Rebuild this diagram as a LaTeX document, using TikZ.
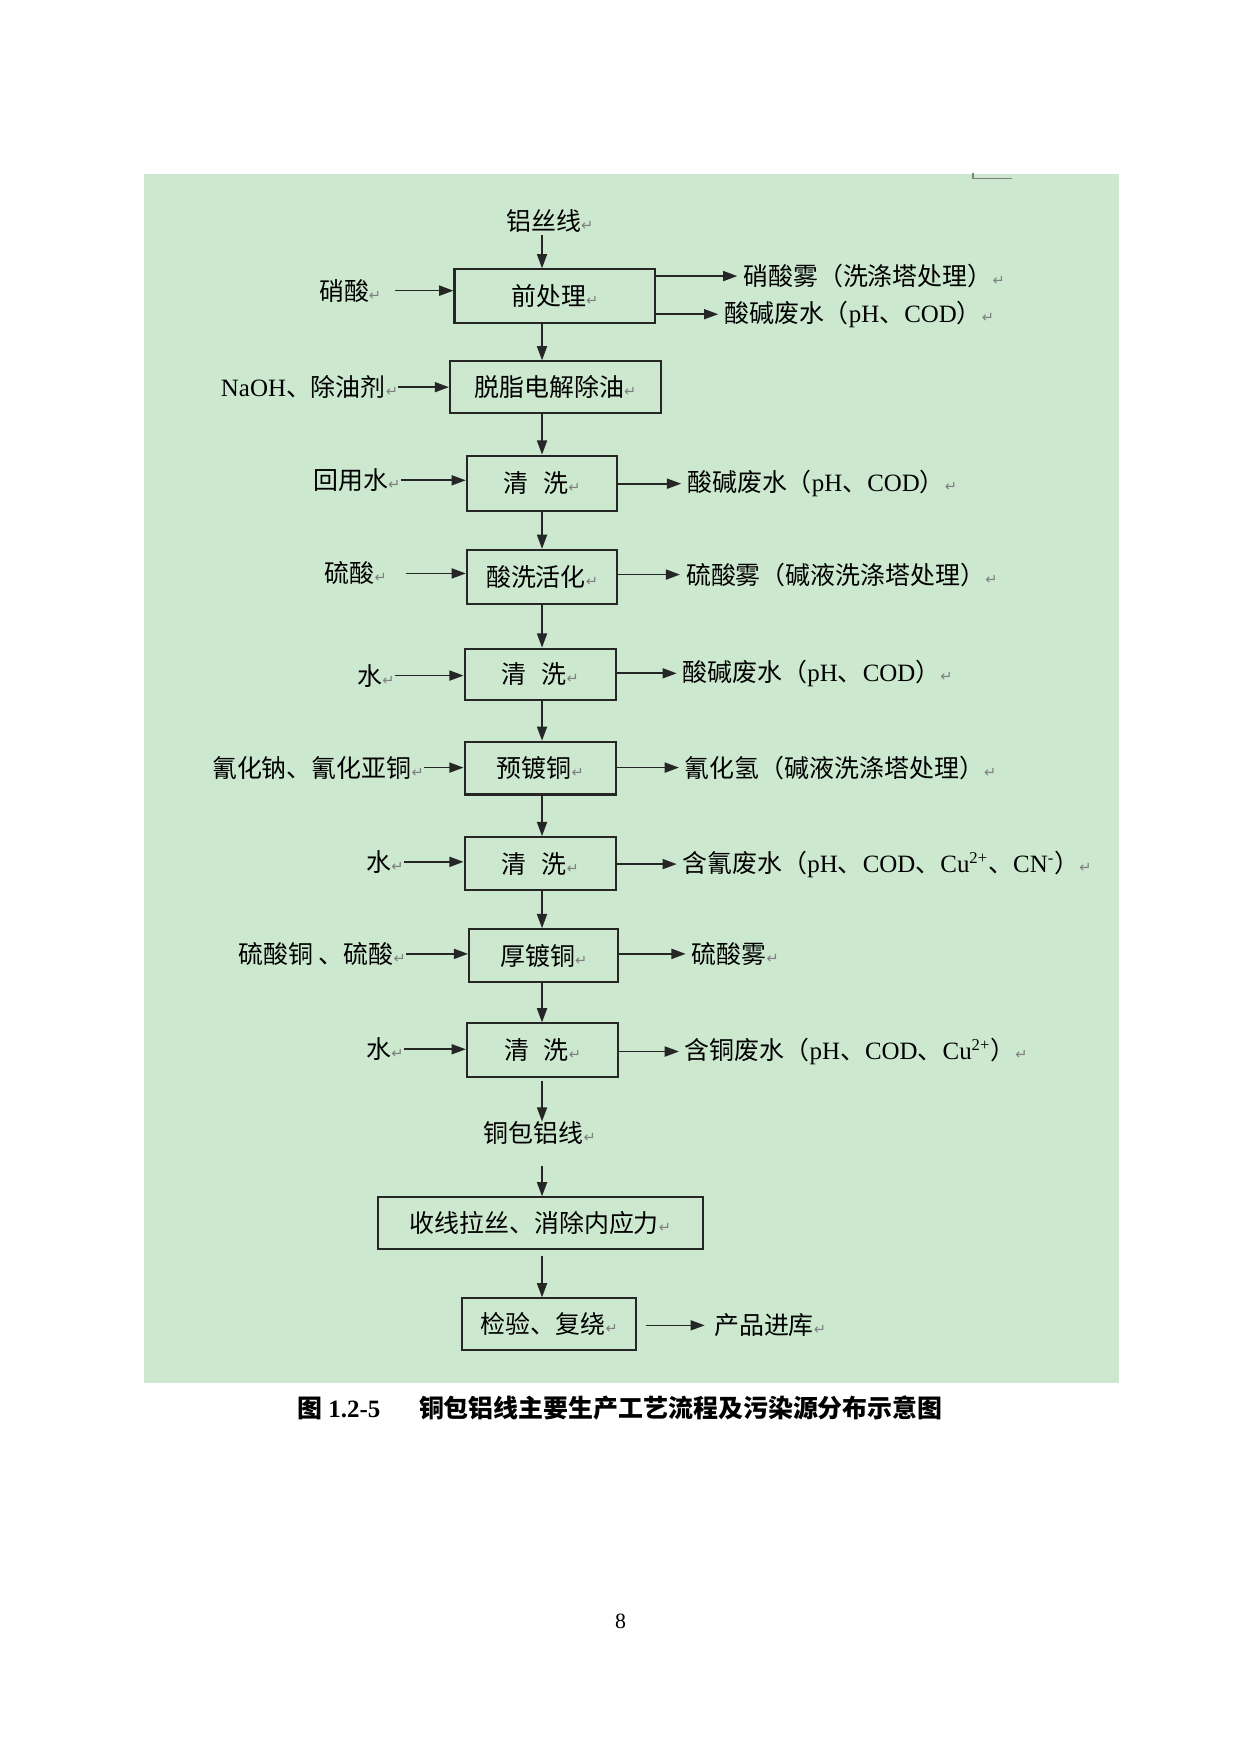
\documentclass[tikz,border=0pt]{standalone}
\usepackage{fontspec}
\setmainfont{Noto Sans CJK SC}
\newfontfamily\lat{Liberation Serif}
\newfontfamily\sym{DejaVu Sans}
\usetikzlibrary{positioning,arrows.meta,calc}
\definecolor{papiergruen}{RGB}{204,232,207}
\definecolor{markgrau}{RGB}{128,128,128}
\newcommand{\px}{0.5402pt}
\newcommand{\tnr}[1]{{\lat #1}}
\newcommand{\pmark}{{\sym\fontsize{7pt}{8pt}\selectfont\color{markgrau}↵}}

\begin{document}
\begin{tikzpicture}[x=0.018987cm,y=-0.018987cm,
    font=\fontsize{12pt}{14pt}\selectfont,
    box/.style={draw=black!85,line width=1pt,inner sep=0pt},
    lbl/.style={inner sep=0pt},
    flow/.style={draw=black!85,line width=0.8pt,-{Triangle[length=2.4mm,width=1.7mm]}}]
    \useasboundingbox (0,0) rectangle (1106,1563);

    % Hintergrund
    \fill[papiergruen] (128,155) rectangle (997,1232);
    \draw[markgrau,line width=0.6pt] (867,154) -- (867,159) -- (902,159);
    \coordinate (spine) at (483,0);

    % Prozessschritte
    \node[box,minimum width=179*\px,minimum height=48*\px] (vor) at (494.5,264) {前处理\pmark};
    \node[box,minimum width=188*\px,minimum height=46*\px] (entf) at (495,345) {脱脂电解除油\pmark};
    \node[box,minimum width=134*\px,minimum height=49*\px] (spuelA) at (483,430.5) {清\hspace{0.6em}洗\pmark};
    \node[box,minimum width=134*\px,minimum height=48*\px] (aktiv) at (483,514) {酸洗活化\pmark};
    \node[box,minimum width=135*\px,minimum height=46*\px] (spuelB) at (481.5,601) {清\hspace{0.6em}洗\pmark};
    \node[box,minimum width=135*\px,minimum height=47*\px] (vorcu) at (481.5,684.5) {预镀铜\pmark};
    \node[box,minimum width=135*\px,minimum height=47*\px] (spuelC) at (481.5,769.5) {清\hspace{0.6em}洗\pmark};
    \node[box,minimum width=133*\px,minimum height=47*\px] (dickcu) at (484.5,851.5) {厚镀铜\pmark};
    \node[box,minimum width=135*\px,minimum height=48*\px] (spuelD) at (483.5,936) {清\hspace{0.6em}洗\pmark};
    \node[box,minimum width=289*\px,minimum height=46*\px] (zieh) at (481.5,1090) {收线拉丝、消除内应力\pmark};
    \node[box,minimum width=155*\px,minimum height=46*\px] (pruef) at (489.5,1180) {检验、复绕\pmark};

    \node[lbl] (roh) at (490,197) {铝丝线\pmark};
    \node[lbl] (cca) at (481,1010) {铜包铝线\pmark};

    \draw[flow,shorten <=2*\px] (spine |- roh.south) -- (spine |- vor.north);
    \foreach \a/\b in {vor/entf,entf/spuelA,spuelA/aktiv,aktiv/spuelB,spuelB/vorcu,
        vorcu/spuelC,spuelC/dickcu,dickcu/spuelD}
      \draw[flow] (spine |- \a.south) -- (spine |- \b.north);
    \draw[flow,shorten <=2*\px] (spine |- spuelD.south) -- (spine |- cca.north);
    \draw[flow,shorten <=18*\px] (spine |- cca.south) -- (spine |- zieh.north);
    \draw[flow,shorten <=5*\px] (spine |- zieh.south) -- (spine |- pruef.north);

    % Zulaeufe
    \node[lbl,anchor=east] (inA) at (340,259) {硝酸\pmark};
    \node[lbl,anchor=east] (inB) at (355,345) {\tnr{NaOH}、除油剂\pmark};
    \node[lbl,anchor=east] (inC) at (357,428) {回用水\pmark};
    \node[lbl,anchor=east] (inD) at (345,511) {硫酸\pmark};
    \node[lbl,anchor=east] (inE) at (352,602) {水\pmark};
    \node[lbl,anchor=east] (inF) at (378,684) {氰化钠、氰化亚铜\pmark};
    \node[lbl,anchor=east] (inG) at (360,768) {水\pmark};
    \node[lbl,anchor=east] (inH) at (362,850) {硫酸铜 、硫酸\pmark};
    \node[lbl,anchor=east] (inI) at (360,935) {水\pmark};

    \draw[flow,shorten <=12*\px] (inA.east) -- (inA.east -| vor.west);
    \draw[flow,shorten <=17*\px] (inD.east) -- (inD.east -| aktiv.west);
    \foreach \i/\b in {inB/entf,inC/spuelA,inE/spuelB,inF/vorcu,inG/spuelC,inH/dickcu,inI/spuelD}
      \draw[flow] (\i.east) -- (\i.east -| \b.west);

    % Emissionen
    \node[lbl,anchor=west] (outA) at (662,246) {硝酸雾（洗涤塔处理）\pmark};
    \node[lbl,anchor=west] (outB) at (645,280) {酸碱废水（\tnr{pH}、\tnr{COD}）\pmark};
    \node[lbl,anchor=west] (outC) at (612,431) {酸碱废水（\tnr{pH}、\tnr{COD}）\pmark};
    \node[lbl,anchor=west] (outD) at (611,512) {硫酸雾（碱液洗涤塔处理）\pmark};
    \node[lbl,anchor=west] (outE) at (608,600) {酸碱废水（\tnr{pH}、\tnr{COD}）\pmark};
    \node[lbl,anchor=west] (outF) at (610,684) {氰化氢（碱液洗涤塔处理）\pmark};
    \node[lbl,anchor=west] (outG) at (608,770) {含氰废水（\tnr{pH}、\tnr{COD}、\tnr{Cu\textsuperscript{2+}}、\tnr{CN\textsuperscript{-}}）\pmark};
    \node[lbl,anchor=west] (outH) at (616,850) {硫酸雾\pmark};
    \node[lbl,anchor=west] (outI) at (610,937) {含铜废水（\tnr{pH}、\tnr{COD}、\tnr{Cu\textsuperscript{2+}}）\pmark};
    \node[lbl,anchor=west] (lager) at (636,1181) {产品进库\pmark};

    \foreach \o/\b in {outA/vor,outB/vor,outC/spuelA,outD/aktiv,outE/spuelB,outF/vorcu,
        outG/spuelC,outH/dickcu,outI/spuelD}
      \draw[flow,shorten >=5*\px] (\o.west -| \b.east) -- (\o.west);
    \draw[flow,shorten <=8*\px,shorten >=8*\px] (lager.west -| pruef.east) -- (lager.west);

    % Bildunterschrift
    \node[lbl,anchor=west,font=\fontsize{12pt}{14pt}\selectfont\bfseries] (bildnr) at (265,1255) {图 \tnr{1.2-5}};
    \node[lbl,anchor=west,font=\fontsize{12pt}{14pt}\selectfont\bfseries] (bildtxt) at (373,1255) {铜包铝线主要生产工艺流程及污染源分布示意图};
    \node[lbl,font=\lat\fontsize{10.5pt}{12pt}\selectfont] (seite) at (553,1445) {8};
\end{tikzpicture}
\end{document}
